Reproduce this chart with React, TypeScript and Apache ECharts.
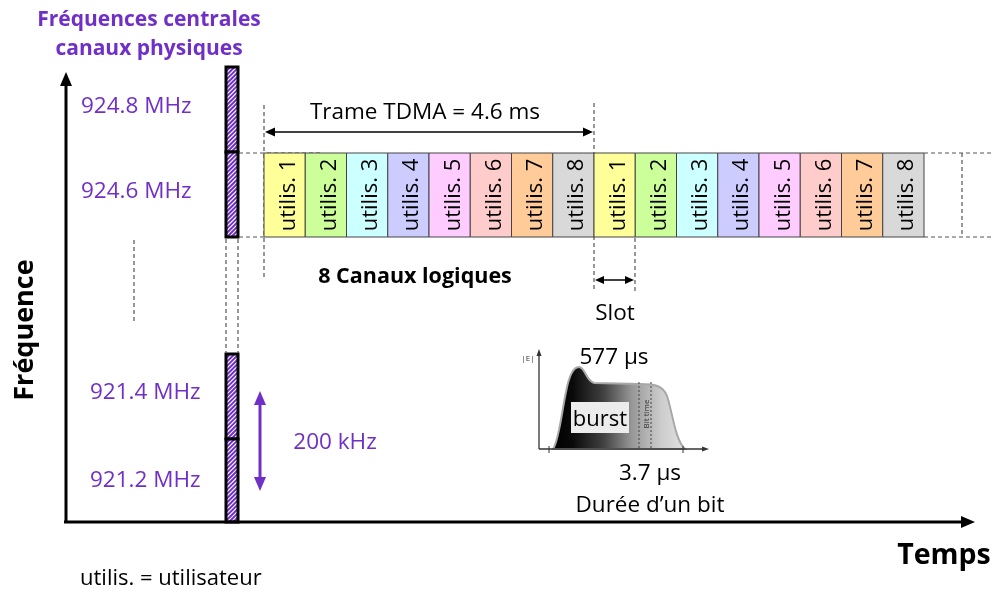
import React, { useEffect, useRef } from "react";
import * as echarts from "echarts";

// ---- Data ----
const slotLabels = ["utilis. 1", "utilis. 2", "utilis. 3", "utilis. 4", "utilis. 5", "utilis. 6", "utilis. 7", "utilis. 8"];
const slotColors = ["#FFFF99", "#CCFF99", "#CCFFFF", "#CCCCFF", "#FFCCFF", "#FFCCCC", "#FFCC99", "#D9D9D9"];
const frameCount = 2;
const frequencyLabels = ["924.8 MHz", "924.6 MHz", "921.4 MHz", "921.2 MHz"];
const titleLines = ["Fréquences centrales", "canaux physiques"];
const frameLabel = "Trame TDMA = 4.6 ms";
const logicalLabel = "8 Canaux logiques";
const slotLabel = "Slot";
const burstDuration = "577 µs";
const bitDuration = "3.7 µs";
const bitCaption = "Durée d’un bit";
const bandwidthLabel = "200 kHz";
const legendNote = "utilis. = utilisateur";
const yAxisName = "Fréquence";
const xAxisName = "Temps";

const FONT = "'Open Sans', Lato, sans-serif";
const PURPLE = "#7030C8";
const DASH = "#555555";

// layout
const W = 994;
const H = 591;
const slotX0 = 264;
const slotW = 41.25;
const slotBottom = 237;
const slotH = 84;

function line(x1: number, y1: number, x2: number, y2: number, stroke: string, lw: number, dash?: number[]) {
  return {
    type: "line",
    silent: true,
    shape: { x1, y1, x2, y2 },
    style: { stroke, lineWidth: lw, lineDash: dash || null },
  };
}

function head(tx: number, ty: number, dx: number, dy: number, len: number, hw: number, color: string) {
  const bx = tx - dx * len;
  const by = ty - dy * len;
  const px = -dy;
  const py = dx;
  return {
    type: "polygon",
    silent: true,
    shape: { points: [[tx, ty], [bx + px * hw, by + py * hw], [bx - px * hw, by - py * hw]] },
    style: { fill: color },
  };
}

function txt(x: number, y: number, s: string, size: number, opts: any = {}) {
  return {
    type: "text",
    silent: true,
    x,
    y,
    rotation: opts.rotation || 0,
    style: {
      text: s,
      fill: opts.fill || "#000",
      fontSize: size,
      fontFamily: FONT,
      fontWeight: opts.bold ? "bold" : "normal",
      align: opts.align || "center",
      verticalAlign: "middle",
    },
  };
}

function hatched(x0: number, y0: number, x1: number, y1: number) {
  const els: any[] = [];
  els.push({ type: "rect", silent: true, shape: { x: x0, y: y0, width: x1 - x0, height: y1 - y0 }, style: { fill: "#fff" } });
  const p = 4.3;
  for (let c = x0 + y0; c <= x1 + y1; c += p) {
    const xs = Math.max(x0, c - y1);
    const xe = Math.min(x1, c - y0);
    if (xe > xs) els.push(line(xs, c - xs, xe, c - xe, PURPLE, 2));
  }
  els.push({ type: "rect", silent: true, shape: { x: x0, y: y0, width: x1 - x0, height: y1 - y0 }, style: { fill: "none", stroke: "#000", lineWidth: 3 } });
  return els;
}

const burstPath =
  "M553,449 C559,441 562,410 566,392 C569,376 573,367 579,367 C585,367 586,381 594,383 L640,384 C656,384 663,386 667,396 C672,410 675,440 685,449 Z";

export default function App() {
  const ref = useRef<HTMLDivElement>(null);
  useEffect(() => {
    document.body.style.margin = "0";
    if (!ref.current) return;
    try {
      echarts.graphic.registerShape("burst", echarts.graphic.extendPath(burstPath, {}) as any);
    } catch (e) {}
    const chart = echarts.init(ref.current, null, { renderer: "svg" });

    const slotData: number[][] = [];
    for (let f = 0; f < frameCount; f++) {
      for (let s = 0; s < slotLabels.length; s++) slotData.push([f * slotLabels.length + s, s]);
    }

    const g: any[] = [];
    // hatched frequency columns
    g.push(...hatched(226, 67, 238, 152));
    g.push(...hatched(226, 152, 238, 237));
    g.push(...hatched(226, 354, 238, 439));
    g.push(...hatched(226, 439, 238, 522));
    // dashed between column parts
    g.push(line(226, 239, 226, 353, DASH, 1.2, [4, 3]));
    g.push(line(238, 239, 238, 353, DASH, 1.2, [4, 3]));
    g.push(line(134, 240, 134, 323, DASH, 1.2, [4, 3]));
    // dashed guides to slots
    g.push(line(239, 153, 322, 153, DASH, 1.2, [4, 3]));
    g.push(line(239, 237, 264, 237, DASH, 1.2, [4, 3]));
    // trailing dashed slots
    g.push(line(924, 153, 994, 153, DASH, 1.2, [4, 3]));
    g.push(line(924, 237, 994, 237, DASH, 1.2, [4, 3]));
    g.push(line(962, 153, 962, 237, DASH, 1.2, [4, 3]));
    // vertical dashed markers
    g.push(line(264, 105, 264, 277, DASH, 1.2, [4, 3]));
    g.push(line(594, 103, 594, 291, DASH, 1.2, [4, 3]));
    g.push(line(635, 238, 635, 291, DASH, 1.2, [4, 3]));
    // frame arrow
    g.push(line(272, 132, 586, 132, "#000", 1.5));
    g.push(head(265, 132, -1, 0, 10, 4.5, "#000"));
    g.push(head(593, 132, 1, 0, 10, 4.5, "#000"));
    // slot arrow
    g.push(line(602, 280, 627, 280, "#000", 1.5));
    g.push(head(595, 280, -1, 0, 9, 4, "#000"));
    g.push(head(634, 280, 1, 0, 9, 4, "#000"));
    // 200 kHz arrow
    g.push(line(260, 404, 260, 478, PURPLE, 3));
    g.push(head(260, 391, 0, -1, 14, 6, PURPLE));
    g.push(head(260, 491, 0, 1, 14, 6, PURPLE));
    // main axes
    g.push(line(66, 523, 66, 84, "#000", 3));
    g.push(head(66, 72, 0, -1, 14, 6, "#000"));
    g.push(line(64, 522, 962, 522, "#000", 3));
    g.push(head(975, 522, 1, 0, 14, 6, "#000"));

    // burst figure
    g.push({
      type: "burst",
      silent: true,
      style: {
        fill: new echarts.graphic.LinearGradient(0, 0, 1, 0, [
          { offset: 0, color: "#000000" },
          { offset: 0.15, color: "#0a0a0a" },
          { offset: 0.38, color: "#404040" },
          { offset: 0.6, color: "#989898" },
          { offset: 0.82, color: "#cccccc" },
          { offset: 1, color: "#e2e2e2" },
        ]),
        stroke: "#a8a8a8",
        lineWidth: 2,
      },
    });
    g.push(line(539, 449, 539, 356, "#333", 1.3));
    g.push(head(539, 349, 0, -1, 7, 2.5, "#333"));
    g.push(line(539, 449, 702, 449, "#333", 1.3));
    g.push(head(709, 449, 1, 0, 7, 2.5, "#333"));
    g.push(line(549, 446, 549, 453, "#333", 1));
    g.push(line(683, 446, 683, 453, "#333", 1));
    g.push(line(639, 382, 639, 449, "#444", 1, [2, 2]));
    g.push(line(651, 382, 651, 449, "#444", 1, [2, 2]));
    g.push(txt(645, 414, "Bit time", 8, { rotation: Math.PI / 2, fill: "#333" }));
    g.push(txt(528, 357, "|E|", 8, { fill: "#333" }));
    g.push({ type: "rect", silent: true, shape: { x: 571, y: 402, width: 58, height: 31 }, style: { fill: "#ececec" } });
    g.push(txt(600, 417, "burst", 22));

    // texts
    g.push(txt(149, 18, titleLines[0], 21, { bold: true, fill: PURPLE }));
    g.push(txt(149, 47, titleLines[1], 21, { bold: true, fill: PURPLE }));
    g.push(txt(81, 104, frequencyLabels[0], 22.5, { fill: PURPLE, align: "left" }));
    g.push(txt(81, 189, frequencyLabels[1], 22.5, { fill: PURPLE, align: "left" }));
    g.push(txt(90, 390, frequencyLabels[2], 22.5, { fill: PURPLE, align: "left" }));
    g.push(txt(90, 478, frequencyLabels[3], 22.5, { fill: PURPLE, align: "left" }));
    g.push(txt(335, 440, bandwidthLabel, 22.5, { fill: PURPLE }));
    g.push(txt(425, 110, frameLabel, 22.5));
    g.push(txt(415, 274, logicalLabel, 21.5, { bold: true }));
    g.push(txt(615, 311, slotLabel, 22.5));
    g.push(txt(614, 355, burstDuration, 22.5));
    g.push(txt(650, 471, bitDuration, 22.5));
    g.push(txt(650, 503, bitCaption, 22.5));
    g.push(txt(80, 576, legendNote, 22, { align: "left" }));
    g.push(txt(22, 330, yAxisName, 27, { bold: true, rotation: Math.PI / 2 }));
    g.push(txt(944, 553, xAxisName, 28.5, { bold: true }));

    chart.setOption({
      animation: false,
      grid: { left: 0, right: 0, top: 0, bottom: 0 },
      xAxis: { type: "value", show: false, min: -slotX0 / slotW, max: (W - slotX0) / slotW },
      yAxis: { type: "value", show: false, min: -(H - slotBottom) / slotH, max: slotBottom / slotH },
      series: [
        {
          type: "custom",
          silent: true,
          z: 1,
          data: slotData,
          renderItem: (params: any, api: any) => {
            const i = api.value(0);
            const s = api.value(1);
            const p0 = api.coord([i, 1]);
            const p1 = api.coord([i + 1, 0]);
            const w = p1[0] - p0[0];
            const h = p1[1] - p0[1];
            return {
              type: "group",
              children: [
                { type: "rect", shape: { x: p0[0], y: p0[1], width: w, height: h }, style: { fill: slotColors[s], stroke: "#444", lineWidth: 1 } },
                {
                  type: "text",
                  x: p0[0] + w / 2 + 1,
                  y: p0[1] + h / 2,
                  rotation: Math.PI / 2,
                  style: { text: slotLabels[s], fill: "#000", fontSize: 22, fontFamily: FONT, align: "center", verticalAlign: "middle" },
                },
              ],
            };
          },
        },
      ],
      graphic: { elements: g },
    });
    return () => chart.dispose();
  }, []);
  return <div ref={ref} style={{ position: "fixed", left: 0, top: 0, width: W, height: H }} />;
}
